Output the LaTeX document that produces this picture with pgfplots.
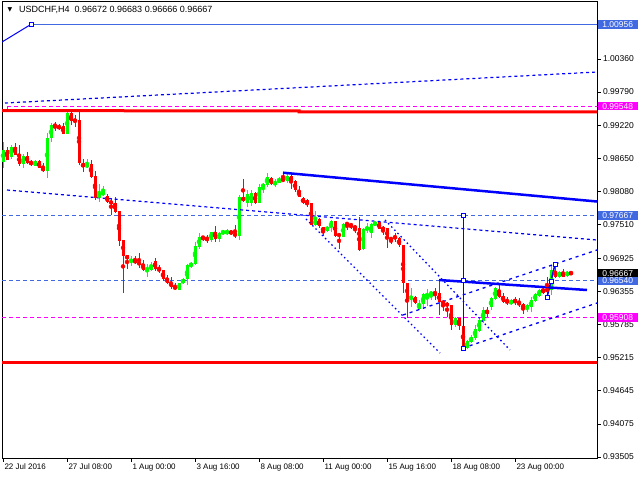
\documentclass[border=0pt]{standalone}
\usepackage{pgfplots}
\pgfplotsset{compat=1.18}
\usepackage{pgfplotstable}
\usepackage{fontspec}
\setmainfont{Liberation Sans}
\newfontfamily\dejavu{DejaVu Sans}
\definecolor{royal}{RGB}{65,105,225}
\definecolor{lime}{RGB}{0,255,0}
\definecolor{mag}{RGB}{255,0,255}
\definecolor{pblue}{RGB}{0,0,255}

\pgfplotstableread{
i o h l c
0 0.98591 0.98924 0.98476 0.98792
1 0.98792 0.98849 0.98620 0.98620
2 0.98677 0.98878 0.98637 0.98849
3 0.98849 0.98918 0.98706 0.98706
4 0.98717 0.98878 0.98517 0.98545
5 0.98545 0.98717 0.98476 0.98689
6 0.98689 0.98752 0.98545 0.98574
7 0.98591 0.98620 0.98517 0.98551
8 0.98522 0.98620 0.98517 0.98603
9 0.98603 0.98620 0.98476 0.98476
10 0.98488 0.98562 0.98419 0.98436
11 0.98436 0.99079 0.98316 0.98993
12 0.98993 0.99251 0.98936 0.99223
13 0.99223 0.99269 0.99119 0.99205
14 0.99205 0.99240 0.99136 0.99165
15 0.99205 0.99251 0.99068 0.99068
16 0.99068 0.99441 0.99068 0.99423
17 0.99423 0.99441 0.99223 0.99297
18 0.99309 0.99395 0.99194 0.99291
19 0.99309 0.99464 0.98534 0.98562
20 0.98562 0.98637 0.98419 0.98505
21 0.98499 0.98631 0.98476 0.98545
22 0.98545 0.98620 0.98304 0.98333
23 0.98350 0.98430 0.97931 0.97960
24 0.97960 0.98201 0.97902 0.98046
25 0.98029 0.98178 0.98006 0.98063
26 0.98006 0.98029 0.97874 0.97902
27 0.97920 0.97960 0.97673 0.97862
28 0.97885 0.97988 0.97701 0.97730
29 0.97742 0.97742 0.97145 0.97231
30 0.97242 0.97242 0.96335 0.96973
31 0.96984 0.96984 0.96743 0.96909
32 0.96869 0.96973 0.96795 0.96898
33 0.96898 0.96973 0.96823 0.96852
34 0.96869 0.97024 0.96766 0.96812
35 0.96829 0.96898 0.96714 0.96726
36 0.96737 0.96829 0.96611 0.96749
37 0.96726 0.96869 0.96709 0.96812
38 0.96881 0.96927 0.96709 0.96737
39 0.96754 0.96812 0.96680 0.96714
40 0.96726 0.96726 0.96542 0.96571
41 0.96582 0.96640 0.96485 0.96508
42 0.96508 0.96600 0.96393 0.96439
43 0.96439 0.96496 0.96381 0.96404
44 0.96381 0.96508 0.96381 0.96496
45 0.96496 0.96582 0.96485 0.96571
46 0.96565 0.96823 0.96467 0.96812
47 0.96806 0.96869 0.96754 0.96829
48 0.96823 0.97214 0.96812 0.97139
49 0.97128 0.97357 0.97082 0.97288
50 0.97300 0.97317 0.97231 0.97271
51 0.97277 0.97328 0.97185 0.97254
52 0.97242 0.97386 0.97214 0.97380
53 0.97386 0.97483 0.97214 0.97254
54 0.97265 0.97386 0.97214 0.97357
55 0.97357 0.97415 0.97328 0.97403
56 0.97357 0.97426 0.97328 0.97397
57 0.97403 0.97415 0.97328 0.97346
58 0.97357 0.97501 0.97283 0.97311
59 0.97311 0.98017 0.97242 0.97989
60 0.97977 0.98293 0.97902 0.97920
61 0.97874 0.98103 0.97816 0.98035
62 0.97885 0.98103 0.97828 0.98046
63 0.98046 0.98063 0.97862 0.97874
64 0.97885 0.98201 0.97874 0.98161
65 0.98149 0.98218 0.98057 0.98207
66 0.98189 0.98390 0.98161 0.98322
67 0.98316 0.98333 0.98189 0.98207
68 0.98189 0.98287 0.98161 0.98247
69 0.98230 0.98333 0.98218 0.98293
70 0.98293 0.98408 0.98247 0.98264
71 0.98264 0.98390 0.98230 0.98350
72 0.98350 0.98379 0.98121 0.98247
73 0.98258 0.98276 0.98075 0.98103
74 0.98086 0.98172 0.97977 0.97989
75 0.97960 0.97977 0.97862 0.97885
76 0.97931 0.97948 0.97805 0.97862
77 0.97885 0.97885 0.97500 0.97500
78 0.97500 0.97742 0.97483 0.97598
79 0.97604 0.97615 0.97443 0.97483
80 0.97460 0.97472 0.97311 0.97397
81 0.97403 0.97483 0.97386 0.97472
82 0.97460 0.97587 0.97386 0.97569
83 0.97569 0.97575 0.97300 0.97317
84 0.97346 0.97368 0.97087 0.97311
85 0.97300 0.97529 0.97288 0.97518
86 0.97541 0.97558 0.97414 0.97500
87 0.97518 0.97541 0.97426 0.97483
88 0.97483 0.97500 0.97357 0.97443
89 0.97443 0.97644 0.97059 0.97070
90 0.97081 0.97443 0.97070 0.97432
91 0.97414 0.97529 0.97357 0.97460
92 0.97357 0.97541 0.97271 0.97518
93 0.97500 0.97558 0.97483 0.97558
94 0.97546 0.97558 0.97426 0.97432
95 0.97472 0.97483 0.97328 0.97403
96 0.97443 0.97455 0.97110 0.97271
97 0.97282 0.97288 0.97173 0.97242
98 0.97317 0.97368 0.97213 0.97259
99 0.97271 0.97300 0.97116 0.97156
100 0.97156 0.97156 0.96335 0.96496
101 0.96507 0.96507 0.95893 0.96226
102 0.96226 0.96421 0.96083 0.96266
103 0.96266 0.96278 0.96140 0.96152
104 0.96048 0.96209 0.96037 0.96140
105 0.96140 0.96335 0.96048 0.96307
106 0.96284 0.96398 0.96106 0.96307
107 0.96295 0.96364 0.96209 0.96352
108 0.96347 0.96410 0.96209 0.96312
109 0.96324 0.96553 0.95951 0.96180
110 0.96192 0.96209 0.96025 0.96140
111 0.96152 0.96175 0.95911 0.96106
112 0.96123 0.96123 0.95692 0.95778
113 0.95778 0.95922 0.95738 0.95893
114 0.95905 0.95905 0.95692 0.95761
115 0.95761 0.95761 0.95377 0.95405
116 0.95377 0.95520 0.95359 0.95509
117 0.95480 0.95606 0.95463 0.95566
118 0.95549 0.95778 0.95520 0.95704
119 0.95681 0.95893 0.95664 0.95865
120 0.95847 0.96083 0.95819 0.96037
121 0.96037 0.96094 0.95922 0.95968
122 0.96094 0.96266 0.96037 0.96238
123 0.96220 0.96439 0.96209 0.96410
124 0.96352 0.96467 0.96249 0.96266
125 0.96278 0.96324 0.96163 0.96180
126 0.96209 0.96266 0.96123 0.96152
127 0.96140 0.96220 0.96123 0.96209
128 0.96220 0.96255 0.96123 0.96169
129 0.96180 0.96238 0.96094 0.96123
130 0.96134 0.96163 0.95962 0.96065
131 0.96048 0.96134 0.96008 0.96123
132 0.96094 0.96266 0.96008 0.96209
133 0.96198 0.96335 0.96180 0.96312
134 0.96278 0.96393 0.96255 0.96381
135 0.96393 0.96439 0.96307 0.96335
136 0.96410 0.96611 0.96324 0.96352
137 0.96381 0.96812 0.96295 0.96726
138 0.96714 0.96783 0.96582 0.96611
139 0.96611 0.96714 0.96582 0.96697
140 0.96680 0.96737 0.96599 0.96611
141 0.96628 0.96714 0.96611 0.96697
142 0.96672 0.96683 0.96666 0.96667
}\candles

\begin{document}
\begin{tikzpicture}
\begin{axis}[name=ax, at={(0,0)}, anchor=south west,
  scale only axis, width=595pt, height=457pt,
  xmin=-0.25, xmax=148.5, ymin=0.93488, ymax=1.01358,
  axis line style={line width=0.9pt, black},
  xtick={0,16,32,48,64,80,96,112,128},
  xticklabels={22 Jul 2016, 27 Jul 08:00, 1 Aug 00:00, 3 Aug 16:00, 8 Aug 08:00, 11 Aug 00:00, 15 Aug 16:00, 18 Aug 08:00, 23 Aug 00:00},
  ytick={0.93505,0.94075,0.94645,0.95215,0.95785,0.96355,0.96925,0.97510,0.98080,0.98650,0.99220,0.99790,1.00360},
  yticklabels={0.93505,0.94075,0.94645,0.95215,0.95785,0.96355,0.96925,0.97510,0.98080,0.98650,0.99220,0.99790,1.00360},
  scaled y ticks=false,
  ytick pos=right, xtick pos=bottom, tick align=outside,
  major tick length=3.5pt, tick style={black, line width=0.8pt},
  yticklabel style={font=\fontsize{8.5}{10}\selectfont, anchor=west, xshift=-1pt},
  xticklabel style={font=\fontsize{8}{10}\selectfont, anchor=north west, xshift=-2pt, yshift=1pt},
  clip=true,
]
% ---- horizontal levels (behind candles)
\addplot[royal, line width=1.2pt, dash pattern=on 4pt off 3pt] coordinates {(-0.25,0.97667) (148.5,0.97667)};
\addplot[royal, line width=1.2pt, dash pattern=on 4pt off 3pt] coordinates {(-0.25,0.96540) (148.5,0.96540)};
\addplot[mag, line width=1.2pt, dash pattern=on 4pt off 3pt] coordinates {(-0.25,0.95908) (148.5,0.95908)};
% ---- wicks
\addplot[color=lime, only marks, mark=none, forget plot,
  restrict expr to domain={\thisrow{c}-\thisrow{o}}{0:1},
  error bars/.cd, y dir=both, y explicit, error mark=none,
  error bar style={color=lime, line width=1pt}]
  table[x=i, y expr={(\thisrow{h}+\thisrow{l})/2}, y error expr={(\thisrow{h}-\thisrow{l})/2}] {\candles};
\addplot[color=red, only marks, mark=none, forget plot,
  restrict expr to domain={\thisrow{c}-\thisrow{o}}{-1:-0.0000001},
  error bars/.cd, y dir=both, y explicit, error mark=none,
  error bar style={color=red, line width=1pt}]
  table[x=i, y expr={(\thisrow{h}+\thisrow{l})/2}, y error expr={(\thisrow{h}-\thisrow{l})/2}] {\candles};
% ---- bodies
\addplot[color=lime, only marks, mark=none, forget plot,
  restrict expr to domain={\thisrow{c}-\thisrow{o}}{0:1},
  error bars/.cd, y dir=both, y explicit, error mark=none,
  error bar style={color=lime, line width=3pt}]
  table[x=i, y expr={(\thisrow{o}+\thisrow{c})/2}, y error expr={max(abs(\thisrow{c}-\thisrow{o})/2,0.00005)}] {\candles};
\addplot[color=red, only marks, mark=none, forget plot,
  restrict expr to domain={\thisrow{c}-\thisrow{o}}{-1:-0.0000001},
  error bars/.cd, y dir=both, y explicit, error mark=none,
  error bar style={color=red, line width=3pt}]
  table[x=i, y expr={(\thisrow{o}+\thisrow{c})/2}, y error expr={max(abs(\thisrow{c}-\thisrow{o})/2,0.00005)}] {\candles};

\addplot[royal, line width=1pt] coordinates {(7,1.00956) (148.5,1.00956)};
\addplot[pblue, line width=1pt] coordinates {(-0.25,1.00652) (7,1.00956)};
\addplot[only marks, mark=square*, mark size=2pt, mark options={fill=white, draw=pblue, line width=0.8pt}] coordinates {(7,1.00956)};
\addplot[mag, line width=1.2pt, dash pattern=on 4pt off 3pt] coordinates {(1,0.99548) (148.5,0.99548)};
\addplot[mag, line width=1pt] coordinates {(1,0.99548) (1,0.99480)};
\addplot[pblue, line width=1.2pt, dash pattern=on 3pt off 3pt] coordinates {(0.5,0.99601) (148.5,1.00135)};
\addplot[red, line width=3pt] coordinates {(-0.25,0.99470) (74,0.99465) (74,0.99450) (148.5,0.99450)};
\addplot[red, line width=3pt] coordinates {(-0.25,0.95130) (148.5,0.95130)};
% ---- trend lines
\addplot[pblue, line width=1.2pt, dash pattern=on 3pt off 3pt] coordinates {(1,0.98103) (148.5,0.97242)};
\addplot[pblue, line width=2.5pt] coordinates {(70,0.98401) (148.5,0.97905)};
\addplot[pblue, line width=1.3pt, dash pattern=on 1.5pt off 3pt] coordinates {(75.75,0.97604) (109.25,0.95296)};
\addplot[pblue, line width=1.3pt, dash pattern=on 1.5pt off 3pt] coordinates {(95.5,0.97587) (126.75,0.95348)};
\addplot[pblue, line width=1.3pt, dash pattern=on 3pt off 4pt] coordinates {(100,0.95951) (148.5,0.97070)};
\addplot[pblue, line width=1.3pt, dash pattern=on 3pt off 4pt] coordinates {(115,0.95382) (148.5,0.96157)};
\addplot[pblue, line width=2.5pt] coordinates {(109,0.96553) (146,0.96381)};
\addplot[pblue, line width=1pt] coordinates {(115,0.97667) (115,0.95382)};
\addplot[pblue, line width=1.5pt] coordinates {(136,0.96256) (137,0.96531) (138,0.96824)};
\addplot[only marks, mark=square*, mark size=2pt, mark options={fill=white, draw=pblue, line width=0.8pt}] coordinates {(115,0.97667) (115,0.96540) (115,0.95382) (136,0.96256) (137,0.96531) (138,0.96824)};

\coordinate (L1) at (axis cs:148.5,1.00956);
\coordinate (L2) at (axis cs:148.5,0.99548);
\coordinate (L3) at (axis cs:148.5,0.97667);
\coordinate (L4) at (axis cs:148.5,0.96667);
\coordinate (L5) at (axis cs:148.5,0.96540);
\coordinate (L6) at (axis cs:148.5,0.95908);
\end{axis}
\begin{scope}[every node/.style={anchor=west, text=white, inner xsep=1.5pt, inner ysep=1.2pt, font=\fontsize{8.5}{10}\selectfont, minimum width=40pt, align=left}]
\node[fill=royal] at ([xshift=0.5pt]L1) {1.00956};
\node[fill=mag] at ([xshift=0.5pt]L2) {0.99548};
\node[fill=royal] at ([xshift=0.5pt]L3) {0.97667};
\node[fill=black] at ([xshift=0.5pt]L4) {0.96667};
\node[fill=royal] at ([xshift=0.5pt]L5) {0.96540};
\node[fill=mag] at ([xshift=0.5pt]L6) {0.95908};
\end{scope}
\node[anchor=west, font=\fontsize{9}{11}\selectfont, inner sep=0pt] at ([xshift=17pt, yshift=-9pt]ax.north west) {USDCHF,H4\ \ 0.96672 0.96683 0.96666 0.96667};
\node[font=\dejavu\fontsize{6}{7}\selectfont, inner sep=0pt] at ([xshift=8pt, yshift=-9pt]ax.north west) {▼};
\pgfresetboundingbox
\path[use as bounding box] ([shift={(-2pt,-22pt)}]ax.south west) rectangle ([shift={(43pt,1pt)}]ax.north east);
\end{tikzpicture}
\end{document}
